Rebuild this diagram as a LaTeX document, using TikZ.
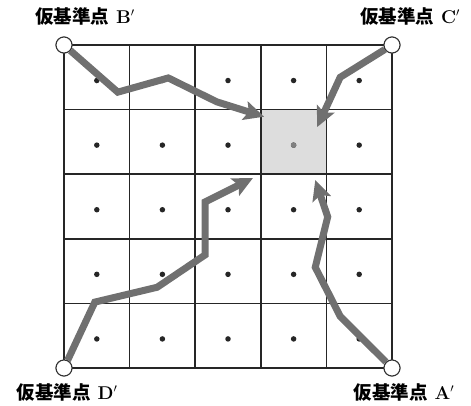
\documentclass[tikz,border=0pt]{standalone}
\usepackage{fontspec}
\newfontfamily\jpfont{Noto Sans CJK JP}
\usetikzlibrary{arrows.meta,positioning}
\definecolor{routegray}{RGB}{112,112,112}
\definecolor{cellgray}{RGB}{221,221,221}
\tikzset{
  gridline/.style={draw=black!85,line width=1.5pt},
  corner/.style={circle,draw=black!80,fill=white,line width=1pt,minimum size=16pt,inner sep=0pt},
  cellpt/.style={circle,fill=black!85,inner sep=0pt,minimum size=5.5pt},
  route/.style={draw=routegray,line width=7pt,-{Stealth[length=20pt,width=19pt,inset=4pt]}},
  ptlabel/.style={font=\fontsize{18.5}{20}\selectfont\bfseries,inner sep=0pt},
}

\begin{document}
\begin{tikzpicture}[x=1pt,y=-1pt]
  \useasboundingbox (0,0) rectangle (471,405);
  \begin{scope}[shift={(64,45)},x=65.6pt,y=-64.6pt]
    \fill[cellgray] (3,1) rectangle (4,2);
    \foreach \i in {0,...,5}
      {\draw[gridline] (\i,0) -- (\i,5);
       \draw[gridline] (0,\i) -- (5,\i);}
    \foreach \i in {0,...,4}
      \foreach \j in {0,...,4}
        {\node[cellpt] (p\i\j) at (\i+.5,\j+.55) {};}
    \node[cellpt,fill=black!50] at (p31) {};
    \node[corner] (B) at (0,0) {};
    \node[corner] (C) at (5,0) {};
    \node[corner] (D) at (0,5) {};
    \node[corner] (A) at (5,5) {};
    \coordinate (tB) at (3.05,1.11);
    \coordinate (tC) at (3.86,1.27);
    \coordinate (tD) at (2.88,2.06);
    \coordinate (tA) at (3.83,2.09);
    % routes towards the shaded cell
    \draw[route] (B) -- (0.82,0.73) -- (1.59,0.51) -- (2.33,0.88) -- (tB);
    \draw[route] (C) -- (4.21,0.50) -- (tC);
    \draw[route] (D) -- (0.47,3.98) -- (1.42,3.75) -- (2.15,3.25) -- (2.15,2.43) -- (tD);
    \draw[route] (A) -- (4.21,4.20) -- (3.83,3.44) -- (4.02,2.66) -- (tA);
    \foreach \n in {A,B,C,D}{\node[corner] at (\n) {};}
  \end{scope}
  \node[ptlabel] (Blab) at (85,16) {{\jpfont 仮基準点} B$'$};
  \node[ptlabel] (Clab) at (410,16) {{\jpfont 仮基準点} C$'$};
  \node[ptlabel] (Dlab) at (67,392) {{\jpfont 仮基準点} D$'$};
  \node[ptlabel] (Alab) at (404,392) {{\jpfont 仮基準点} A$'$};
\end{tikzpicture}
\end{document}
